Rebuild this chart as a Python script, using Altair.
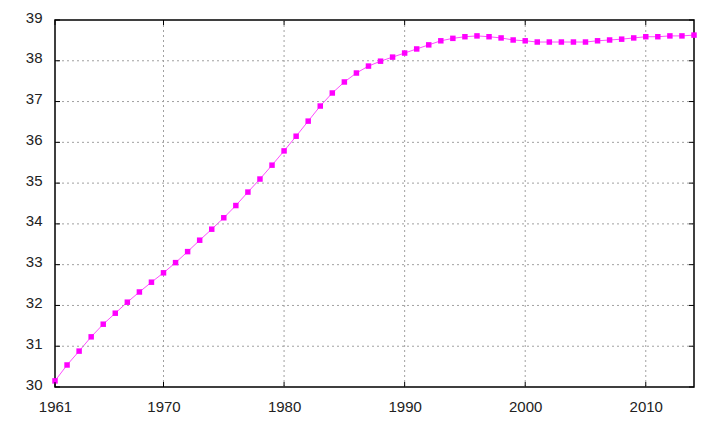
import altair as alt
import pandas as pd

years = list(range(1961, 2015))
values = [30.15, 30.54, 30.88, 31.23, 31.54, 31.81, 32.08, 32.33, 32.57, 32.80,
          33.05, 33.32, 33.60, 33.87, 34.15, 34.45, 34.78, 35.10, 35.44, 35.79,
          36.15, 36.52, 36.89, 37.21, 37.48, 37.70, 37.87, 37.99, 38.09, 38.19,
          38.29, 38.39, 38.49, 38.55, 38.59, 38.61, 38.59, 38.56, 38.51, 38.49,
          38.46, 38.46, 38.46, 38.46, 38.46, 38.49, 38.51, 38.53, 38.56, 38.59,
          38.59, 38.61, 38.61, 38.63]
x_ticks = [1961, 1970, 1980, 1990, 2000, 2010]
x_grid = [1970, 1980, 1990, 2000, 2010]
y_ticks = [30, 31, 32, 33, 34, 35, 36, 37, 38, 39]
y_grid = [31, 32, 33, 34, 35, 36, 37, 38]

W, H = 639, 367
FONT = "Liberation Sans"

df = pd.DataFrame({"year": years, "value": values})
xs = alt.Scale(domain=[1961, 2014], nice=False, zero=False)
ys = alt.Scale(domain=[30, 39], nice=False, zero=False)

xgrid_df = pd.DataFrame({"year": x_grid})
ygrid_df = pd.DataFrame({"value": y_grid})
xt_df = pd.DataFrame({"year": x_ticks})
yt_df = pd.DataFrame({"value": y_ticks})

x_axis = alt.Axis(values=x_ticks, format="d", title=None, grid=False,
                  ticks=False, domain=False, labelFont=FONT,
                  labelFontSize=15, labelColor="#222222", labelPadding=12,
                  labelFlush=False)
y_axis = alt.Axis(values=y_ticks, format="d", title=None, grid=False,
                  ticks=False, domain=False, labelFont=FONT,
                  labelFontSize=15, labelColor="#222222", labelPadding=13,
                  labelOffset=-3)

line = alt.Chart(df).mark_line(color="#ff00ff", strokeWidth=1, opacity=0.7).encode(
    x=alt.X("year:Q", scale=xs, axis=x_axis),
    y=alt.Y("value:Q", scale=ys, axis=y_axis),
)

grid_style = dict(color="#a0a0a0", strokeDash=[2, 3], strokeWidth=1)

vgrid = alt.Chart(xgrid_df).mark_rule(**grid_style).encode(
    x=alt.X("year:Q", scale=xs))
hgrid = alt.Chart(ygrid_df).mark_rule(**grid_style).encode(
    y=alt.Y("value:Q", scale=ys))

tick_style = dict(color="black", strokeWidth=1)
bot_ticks = alt.Chart(xt_df).mark_rule(**tick_style).encode(
    x=alt.X("year:Q", scale=xs), y=alt.value(H), y2=alt.value(H - 5))
top_ticks = alt.Chart(xt_df).mark_rule(**tick_style).encode(
    x=alt.X("year:Q", scale=xs), y=alt.value(0), y2=alt.value(5))
left_ticks = alt.Chart(yt_df).mark_rule(**tick_style).encode(
    y=alt.Y("value:Q", scale=ys), x=alt.value(0), x2=alt.value(5))
right_ticks = alt.Chart(yt_df).mark_rule(**tick_style).encode(
    y=alt.Y("value:Q", scale=ys), x=alt.value(W), x2=alt.value(W - 5))

pts = alt.Chart(df).mark_square(color="#ff00ff", size=30, opacity=1).encode(
    x=alt.X("year:Q", scale=xs), y=alt.Y("value:Q", scale=ys))

chart = alt.layer(line, vgrid, hgrid, pts, bot_ticks, top_ticks, left_ticks, right_ticks).properties(
    width=W, height=H,
    autosize=alt.AutoSizeParams(type="none"),
    padding={"left": 55, "top": 20, "right": 31, "bottom": 39},
).configure(background="white").configure_view(stroke="black", strokeWidth=1.5)

chart.save("out.html", embed_options={"renderer": "svg", "actions": False})
